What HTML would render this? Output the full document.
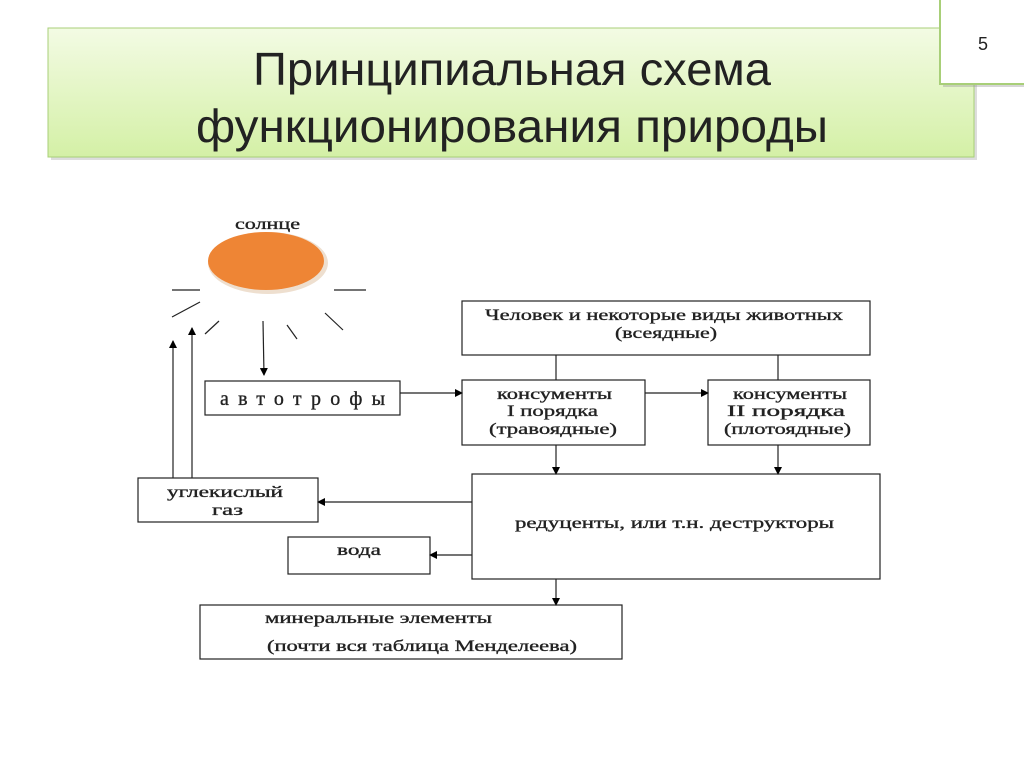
<!DOCTYPE html>
<html><head><meta charset="utf-8"><style>
html,body{margin:0;padding:0;background:#fff;width:1024px;height:767px;overflow:hidden}
</style></head><body>
<svg width="1024" height="767" viewBox="0 0 1024 767" xmlns="http://www.w3.org/2000/svg">
<defs>
<linearGradient id="g" x1="0" y1="0" x2="0" y2="1">
<stop offset="0" stop-color="#f3fbe4"/><stop offset="1" stop-color="#d4f0a6"/></linearGradient>
<marker id="a" markerWidth="8" markerHeight="8" refX="7" refY="4" orient="auto" markerUnits="userSpaceOnUse">
<path d="M0,0 L8,4 L0,8 z" fill="#000"/></marker>
</defs>
<rect x="51" y="31" width="926" height="129" fill="#bbb" opacity="0.5"/>
<rect x="48" y="28" width="926" height="129" fill="url(#g)" stroke="#a8cf78" stroke-width="1"/>
<text x="512" y="85" font-family="'Liberation Sans Narrow','Liberation Sans',sans-serif" font-size="46" text-anchor="middle" fill="#222" textLength="518" lengthAdjust="spacingAndGlyphs">Принципиальная схема</text>
<text x="512" y="142" font-family="'Liberation Sans Narrow','Liberation Sans',sans-serif" font-size="46" text-anchor="middle" fill="#222" textLength="632" lengthAdjust="spacingAndGlyphs">функционирования природы</text>
<rect x="943" y="3" width="84" height="84" fill="#999" opacity="0.4"/>
<rect x="940" y="-2" width="86" height="86" fill="#fff" stroke="#a8cf78" stroke-width="2"/>
<text x="983" y="50" font-family="'Liberation Sans Narrow','Liberation Sans',sans-serif" font-size="18" text-anchor="middle" fill="#222">5</text>

<ellipse cx="268" cy="263" rx="60" ry="31" fill="#eedfcf"/>
<ellipse cx="266" cy="261" rx="58" ry="29" fill="#ee8535"/>
<g stroke="#222" stroke-width="1.2" fill="none">
<line x1="172" y1="290" x2="200" y2="290"/><line x1="334" y1="290" x2="366" y2="290"/>
<line x1="172" y1="317" x2="200" y2="302"/><line x1="205" y1="334" x2="219" y2="321"/>
<line x1="287" y1="325" x2="297" y2="339"/><line x1="325" y1="313" x2="343" y2="330"/>
<line x1="263" y1="321" x2="264" y2="375" marker-end="url(#a)"/>
<line x1="173" y1="478" x2="173" y2="341" marker-end="url(#a)"/>
<line x1="192" y1="478" x2="192" y2="328" marker-end="url(#a)"/>
<line x1="400" y1="393" x2="462" y2="393" marker-end="url(#a)"/>
<line x1="645" y1="393" x2="708" y2="393" marker-end="url(#a)"/>
<line x1="556" y1="355" x2="556" y2="380"/><line x1="778" y1="355" x2="778" y2="380"/>
<line x1="556" y1="445" x2="556" y2="474" marker-end="url(#a)"/>
<line x1="778" y1="445" x2="778" y2="474" marker-end="url(#a)"/>
<line x1="472" y1="502" x2="318" y2="502" marker-end="url(#a)"/>
<line x1="472" y1="555" x2="430" y2="555" marker-end="url(#a)"/>
<line x1="556" y1="579" x2="556" y2="605" marker-end="url(#a)"/>
<rect x="205" y="381" width="195" height="34"/>
<rect x="138" y="478" width="180" height="44"/>
<rect x="288" y="537" width="142" height="37"/>
<rect x="472" y="474" width="408" height="105"/>
<rect x="200" y="605" width="422" height="54"/>
<rect x="462" y="301" width="408" height="54"/>
<rect x="462" y="380" width="183" height="65"/>
<rect x="708" y="380" width="162" height="65"/>
</g>
<g font-family="'Liberation Serif',serif" fill="#222" font-size="16" stroke="#222" stroke-width="0.35">
<text x="235" y="229" textLength="65" lengthAdjust="spacingAndGlyphs">солнце</text>
<text x="220" y="405" font-size="20" textLength="165" lengthAdjust="spacing">автотрофы</text>
<text x="167" y="497" textLength="116" lengthAdjust="spacingAndGlyphs">углекислый</text>
<text x="212" y="515" textLength="31" lengthAdjust="spacingAndGlyphs">газ</text>
<text x="337" y="555" textLength="44" lengthAdjust="spacingAndGlyphs">вода</text>
<text x="515" y="528" textLength="319" lengthAdjust="spacingAndGlyphs">редуценты, или т.н. деструкторы</text>
<text x="265" y="623" textLength="227" lengthAdjust="spacingAndGlyphs">минеральные элементы</text>
<text x="267" y="651" textLength="310" lengthAdjust="spacingAndGlyphs">(почти вся таблица Менделеева)</text>
<text x="485" y="320" textLength="358" lengthAdjust="spacingAndGlyphs">Человек и некоторые виды животных</text>
<text x="615" y="338" textLength="102" lengthAdjust="spacingAndGlyphs">(всеядные)</text>
<text x="497" y="399" textLength="115" lengthAdjust="spacingAndGlyphs">консументы</text>
<text x="507" y="416" textLength="91" lengthAdjust="spacingAndGlyphs">I порядка</text>
<text x="489" y="434" textLength="128" lengthAdjust="spacingAndGlyphs">(травоядные)</text>
<text x="733" y="399" textLength="114" lengthAdjust="spacingAndGlyphs">консументы</text>
<text x="727" y="416" textLength="118" lengthAdjust="spacingAndGlyphs">II порядка</text>
<text x="724" y="434" textLength="127" lengthAdjust="spacingAndGlyphs">(плотоядные)</text>
</g>
</svg>
</body></html>
